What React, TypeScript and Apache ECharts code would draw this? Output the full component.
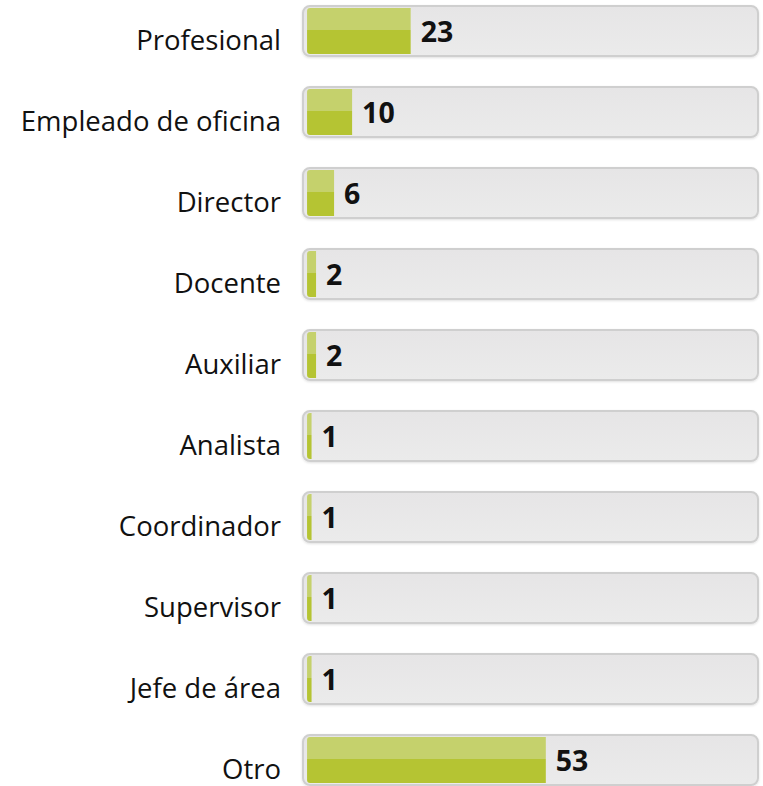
import React, { useEffect, useRef } from "react";
import * as echarts from "echarts";

const categories = [
  "Profesional",
  "Empleado de oficina",
  "Director",
  "Docente",
  "Auxiliar",
  "Analista",
  "Coordinador",
  "Supervisor",
  "Jefe de área",
  "Otro",
];
const values = [23, 10, 6, 2, 2, 1, 1, 1, 1, 53];
const axisMin = -0.9;
const axisMax = 100.1;

export default function App() {
  const ref = useRef<HTMLDivElement>(null);
  useEffect(() => {
    if (!ref.current) return;
    const chart = echarts.init(ref.current, undefined, { renderer: "svg" });
    const green = new echarts.graphic.LinearGradient(0, 0, 0, 1, [
      { offset: 0, color: "#c5d16c" },
      { offset: 0.47, color: "#c5d16c" },
      { offset: 0.47, color: "#b5c433" },
      { offset: 1, color: "#b5c433" },
    ]);
    chart.setOption({
      animation: false,
      backgroundColor: "#ffffff",
      grid: {
        left: 303,
        right: 5,
        top: 31,
        bottom: 26,
        containLabel: false,
        outerBoundsMode: "none",
      },
      xAxis: {
        type: "value",
        min: axisMin,
        max: axisMax,
        show: false,
      },
      yAxis: {
        type: "category",
        data: categories,
        inverse: true,
        boundaryGap: false,
        axisLine: { show: false },
        axisTick: { show: false },
        splitLine: { show: false },
        axisLabel: {
          margin: 22,
          fontFamily: "Open Sans",
          fontSize: 27.5,
          color: "#111111",
          verticalAlign: "top",
          lineHeight: 16,
        },
      },
      series: [
        {
          type: "custom",
          z: 1,
          silent: true,
          data: categories.map((_, i) => i),
          renderItem: (params: any, api: any) => {
            const cs = params.coordSys;
            const cy = api.coord([0, api.value(0)])[1];
            return {
              type: "rect",
              shape: { x: cs.x, y: cy - 25, width: cs.width, height: 50, r: 7 },
              style: {
                fill: new echarts.graphic.LinearGradient(0, 0, 0, 1, [
                  { offset: 0, color: "#e6e5e6" },
                  { offset: 1, color: "#ebebeb" },
                ]),
                stroke: "#cfcfcf",
                lineWidth: 2,
                shadowColor: "rgba(0,0,0,0.12)",
                shadowBlur: 2,
                shadowOffsetY: 1,
              },
            };
          },
        },
        {
          type: "bar",
          z: 2,
          data: values,
          barWidth: 46,
          itemStyle: { color: green, borderRadius: [3, 0, 0, 3] },
          label: {
            show: true,
            position: "right",
            distance: 10,
            fontFamily: "Open Sans",
            fontWeight: "bold",
            fontSize: 28.5,
            color: "#111111",
          },
        },
      ],
    });
    return () => chart.dispose();
  }, []);
  return (
    <div
      ref={ref}
      style={{ position: "fixed", left: 0, top: 0, width: 763, height: 786 }}
    />
  );
}
